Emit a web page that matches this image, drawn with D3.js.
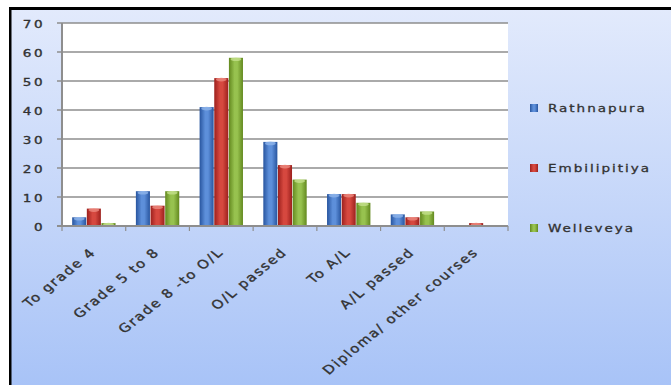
<!DOCTYPE html>
<html>
<head>
<meta charset="utf-8">
<script src="https://cdn.jsdelivr.net/npm/d3@7/dist/d3.min.js"></script>
<style>
  html, body { margin: 0; padding: 0; background: #ffffff; }
  svg { display: block; }
  text { font-family: "DejaVu Sans", sans-serif; }
</style>
</head>
<body>
<svg id="chart" width="671" height="385"></svg>
<script>
// Education level reached, by area
const categories = ["To grade 4", "Grade 5 to 8", "Grade 8 -to O/L", "O/L passed", "To A/L", "A/L passed", "Diploma/ other courses"];
const seriesNames = ["Rathnapura", "Embilipitiya", "Welleveya"];
const rathnapura   = [3, 12, 41, 29, 11, 4, 0];
const embilipitiya = [6, 7, 51, 21, 11, 3, 1];
const welleveya    = [1, 12, 58, 16, 8, 5, 0];
const yTicks = [0, 10, 20, 30, 40, 50, 60, 70];

const seriesValues = [rathnapura, embilipitiya, welleveya];
const palette = [
  { edge: "#28559f", mid: "#5d8fda", light: "#8fb4ea" },
  { edge: "#9c201d", mid: "#d6483f", light: "#ec8a80" },
  { edge: "#63891f", mid: "#97c24f", light: "#c4e08c" }
];

const svg = d3.select("#chart");
const W = 671, H = 385;
const plot = { left: 62, right: 508, top: 23, bottom: 226 };
const stretch = 1.23;
const ink = "#323232";

const defs = svg.append("defs");
const bg = defs.append("linearGradient").attr("id", "bg").attr("x1", 0).attr("y1", 0).attr("x2", 0).attr("y2", 1);
bg.append("stop").attr("offset", "0%").attr("stop-color", "#e2eafc");
bg.append("stop").attr("offset", "55%").attr("stop-color", "#c3d5f9");
bg.append("stop").attr("offset", "100%").attr("stop-color", "#a8c3f7");

palette.forEach((c, i) => {
  const g = defs.append("linearGradient").attr("id", "bar" + i)
    .attr("x1", 0).attr("y1", 0).attr("x2", 1).attr("y2", 0);
  g.append("stop").attr("offset", "0%").attr("stop-color", c.edge);
  g.append("stop").attr("offset", "40%").attr("stop-color", c.mid);
  g.append("stop").attr("offset", "60%").attr("stop-color", c.mid);
  g.append("stop").attr("offset", "100%").attr("stop-color", c.edge);
});

// Frame: background panel with heavy top and left rules
svg.append("rect").attr("x", 10).attr("y", 9).attr("width", W - 10).attr("height", H - 9).attr("fill", "url(#bg)");
svg.append("rect").attr("x", 9).attr("y", 7).attr("width", W - 9).attr("height", 3).attr("fill", "#000");
svg.append("rect").attr("x", 9).attr("y", 7).attr("width", 2.5).attr("height", H - 7).attr("fill", "#000");

// Plot area
svg.append("rect").attr("x", plot.left).attr("y", plot.top)
  .attr("width", plot.right - plot.left).attr("height", plot.bottom - plot.top).attr("fill", "#ffffff");

const y = d3.scaleLinear().domain([0, 70]).range([plot.bottom, plot.top]);
const x0 = d3.scaleBand().domain(categories).range([plot.left, plot.right]).paddingInner(0.31).paddingOuter(0.155);
const x1 = d3.scaleBand().domain(seriesNames).range([0, x0.bandwidth()]).padding(0);

// Gridlines
svg.append("g").selectAll("line").data(yTicks.filter(d => d > 0)).join("line")
  .attr("x1", plot.left - 5).attr("x2", plot.right)
  .attr("y1", d => y(d)).attr("y2", d => y(d))
  .attr("stroke", "#8e8e8e").attr("stroke-width", 1.6);

// Y tick labels
svg.append("g").selectAll("text").data(yTicks).join("text")
  .attr("transform", d => `translate(45,${y(d) + 5}) scale(${stretch},1)`)
  .attr("text-anchor", "end")
  .attr("font-size", 11)
  .attr("letter-spacing", 2)
  .attr("fill", ink).attr("stroke", ink).attr("stroke-width", 0.35)
  .text(d => d);

// Bars
const groups = svg.append("g").selectAll("g").data(categories).join("g")
  .attr("transform", d => `translate(${x0(d)},0)`);
groups.selectAll("rect").data((d, i) => seriesNames.map((s, k) => ({ s, k, v: seriesValues[k][i] })))
  .join("rect")
  .attr("x", d => x1(d.s) + 0.3)
  .attr("width", x1.bandwidth() - 0.6)
  .attr("y", d => y(d.v))
  .attr("height", d => y(0) - y(d.v))
  .attr("fill", d => `url(#bar${d.k})`);
// Top highlight of each bar
groups.selectAll("ellipse").data((d, i) => seriesNames.map((s, k) => ({ s, k, v: seriesValues[k][i] })).filter(d => d.v > 0))
  .join("ellipse")
  .attr("cx", d => x1(d.s) + x1.bandwidth() / 2)
  .attr("cy", d => y(d.v) + 1.5)
  .attr("rx", x1.bandwidth() / 2 - 2)
  .attr("ry", 1.8)
  .attr("fill", d => palette[d.k].light)
  .attr("opacity", 0.8);

// Axes lines
svg.append("line").attr("x1", plot.left).attr("x2", plot.left).attr("y1", plot.top).attr("y2", plot.bottom)
  .attr("stroke", "#8e8e8e").attr("stroke-width", 2);
svg.append("line").attr("x1", plot.left - 5).attr("x2", plot.right).attr("y1", plot.bottom).attr("y2", plot.bottom)
  .attr("stroke", "#8e8e8e").attr("stroke-width", 2);
const step = x0.step();
svg.append("g").selectAll("line").data(d3.range(categories.length + 1)).join("line")
  .attr("x1", d => plot.left + d * step).attr("x2", d => plot.left + d * step)
  .attr("y1", plot.bottom).attr("y2", plot.bottom + 5)
  .attr("stroke", "#8e8e8e").attr("stroke-width", 1.2);

// Category labels
svg.append("g").selectAll("text").data(categories).join("text")
  .attr("transform", d => `translate(${x0(d) + x0.bandwidth() / 2 + 3},${plot.bottom + 27}) scale(${stretch},1) rotate(-45)`)
  .attr("text-anchor", "end")
  .attr("font-size", 12)
  .attr("letter-spacing", 1.5)
  .attr("fill", ink).attr("stroke", ink).attr("stroke-width", 0.35)
  .text(d => d);

// Legend
const legend = svg.append("g").selectAll("g").data(seriesNames).join("g")
  .attr("transform", (d, i) => `translate(530,${108 + i * 60})`);
legend.append("rect").attr("x", 0).attr("y", -4).attr("width", 8).attr("height", 8)
  .attr("fill", (d, i) => `url(#bar${i})`);
legend.append("text")
  .attr("transform", `translate(18,4) scale(${stretch},1)`)
  .attr("font-size", 11)
  .attr("letter-spacing", 1.6)
  .attr("fill", ink).attr("stroke", ink).attr("stroke-width", 0.3)
  .text(d => d);
</script>
</body>
</html>
